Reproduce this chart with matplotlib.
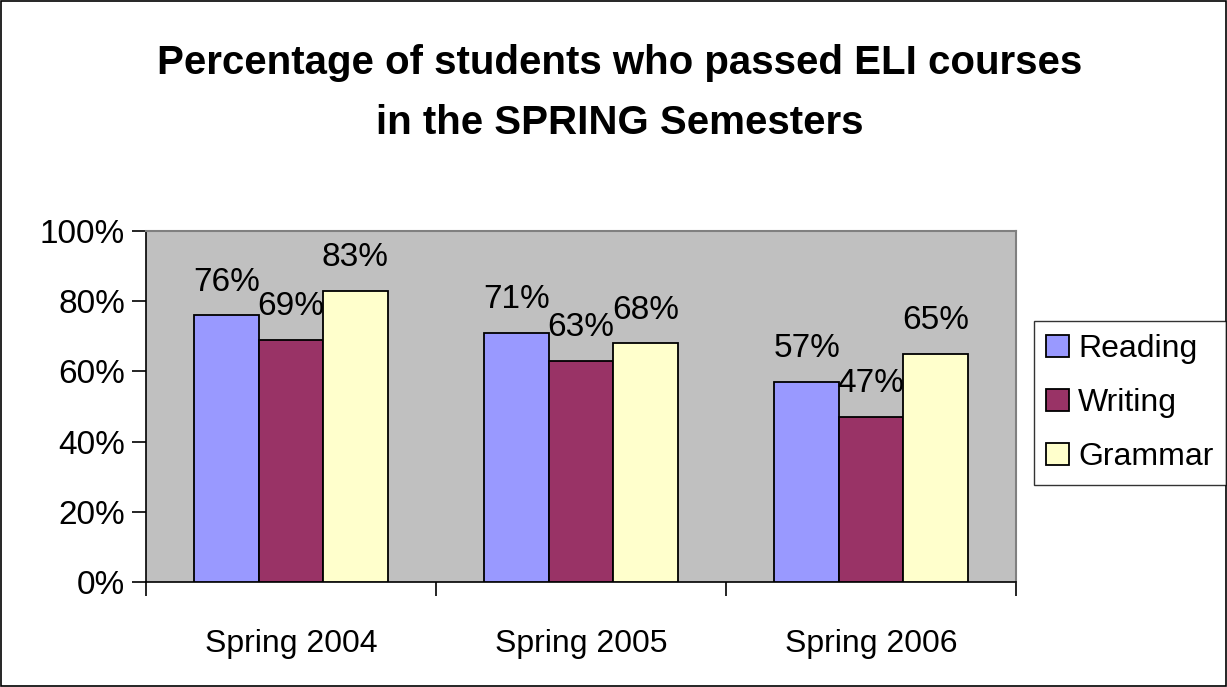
import matplotlib
matplotlib.use("Agg")
import matplotlib.pyplot as plt
import numpy as np
from matplotlib.patches import Rectangle

categories = ["Spring 2004", "Spring 2005", "Spring 2006"]
series_names = ["Reading", "Writing", "Grammar"]
reading = [76, 71, 57]
writing = [69, 63, 47]
grammar = [83, 68, 65]
yticks = [0, 20, 40, 60, 80, 100]
colors = ["#9999FF", "#993366", "#FFFFCC"]

plt.rcParams['font.family'] = ['Liberation Sans', 'DejaVu Sans']

fig = plt.figure(figsize=(12.27, 6.87), dpi=100)
fig.patches.append(Rectangle((0.0008, 0.001), 0.998, 0.998, transform=fig.transFigure,
                             fill=False, edgecolor="black", linewidth=1.2))
ax = fig.add_axes([146/1227, 1-582/687, 870/1227, 351/687])
ax.set_facecolor("#C0C0C0")

x = np.arange(len(categories))
w = 0.222
handles = []
for k, (vals, c, name) in enumerate(zip([reading, writing, grammar], colors, series_names)):
    b = ax.bar(x + (k-1)*w, vals, w, color=c, edgecolor="black", linewidth=1.3, label=name, zorder=3)
    handles.append(b)
    for xi, v in zip(x + (k-1)*w, vals):
        ax.text(xi, v + 5.0, f"{v}%", ha="center", va="bottom", fontsize=24, zorder=4)

ax.set_xlim(-0.5, 2.5)
ax.set_ylim(0, 100)
ax.set_yticks(yticks)
ax.set_yticklabels([f"{t}%" for t in yticks], fontsize=24)
ax.set_xticks([-0.5, 0.5, 1.5, 2.5])
ax.set_xticklabels([])
ax.set_xticks(x, minor=True)
ax.set_xticklabels(categories, minor=True, fontsize=23)
ax.tick_params(axis="x", which="major", length=10, width=1.2, direction="out")
ax.tick_params(axis="x", which="minor", length=0, pad=34)
ax.tick_params(axis="y", length=10, width=1.2, direction="out", pad=5)
for s in ["top", "right"]:
    ax.spines[s].set_color("#808080")
    ax.spines[s].set_linewidth(1.5)
for s in ["left", "bottom"]:
    ax.spines[s].set_color("black")
    ax.spines[s].set_linewidth(1.2)

fig.text(620/1227, 1-63/687, "Percentage of students who passed ELI courses",
         ha="center", va="center", fontsize=29, fontweight="bold")
fig.text(620/1227, 1-123/687, "in the SPRING Semesters",
         ha="center", va="center", fontsize=29, fontweight="bold")

leg = fig.legend(handles=handles, labels=series_names, loc="center",
                 bbox_to_anchor=(1130/1227, 1-403/687), fontsize=23,
                 frameon=True, fancybox=False, edgecolor="black",
                 handlelength=0.7, handleheight=0.7, handletextpad=0.3,
                 labelspacing=0.75, borderpad=0.4)
leg.get_frame().set_linewidth(1.0)

fig.savefig("out.png", dpi=100)
